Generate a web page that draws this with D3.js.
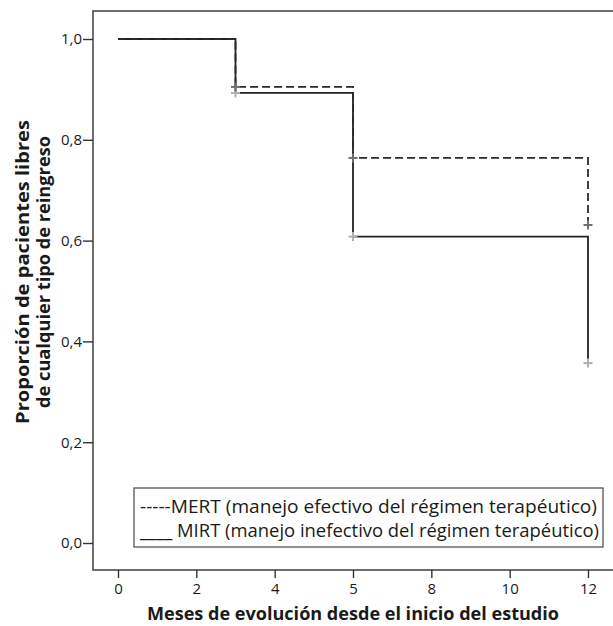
<!DOCTYPE html>
<html>
<head>
<meta charset="utf-8">
<script src="https://cdn.jsdelivr.net/npm/d3@7"></script>
<style>
  body { margin: 0; background: #fff; }
  svg text { font-family: "Open Sans", "Noto Sans", sans-serif; fill: #1a1a1a; }
</style>
</head>
<body>
<div id="chart"></div>
<script>
// data
var months = [0, 3, 5, 12];
var mertSurv = [1.0, 0.905, 0.764, 0.631];
var mirtSurv = [1.0, 0.893, 0.608, 0.357];
var xTicks = [0, 2, 4, 5, 8, 10, 12];
var yTicks = [0, 0.2, 0.4, 0.6, 0.8, 1.0];
var legendLabels = ["-----MERT (manejo efectivo del régimen terapéutico)",
                    "____ MIRT (manejo inefectivo del régimen terapéutico)"];

var W = 613, H = 626;
var frame = {left: 93, top: 11, bottom: 570};

var svg = d3.select("#chart").append("svg")
  .attr("width", W).attr("height", H);

// x axis is evenly spaced per tick (piecewise scale)
var x = d3.scaleLinear()
  .domain(xTicks)
  .range(xTicks.map(function(d, i) { return 118 + i * (470 / (xTicks.length - 1)); }));

var y = d3.scaleLinear().domain([0, 1]).range([543, 39]);

// plot frame (right side runs off the picture)
svg.append("rect")
  .attr("x", frame.left).attr("y", frame.top)
  .attr("width", W + 20 - frame.left).attr("height", frame.bottom - frame.top)
  .attr("fill", "none").attr("stroke", "#4a4a4a").attr("stroke-width", 1.6);

// y axis
var yAxis = svg.append("g")
  .attr("transform", "translate(" + frame.left + ",0)")
  .call(d3.axisLeft(y).tickValues(yTicks).tickSize(10).tickSizeOuter(0)
    .tickFormat(function(d) { return d3.format(".1f")(d).replace(".", ","); }));
yAxis.select(".domain").remove();
yAxis.selectAll(".tick line").attr("stroke", "#333").attr("stroke-width", 1.4);
yAxis.selectAll(".tick text").attr("x", -11).style("font-size", "15px");

// x axis
var xAxis = svg.append("g")
  .attr("transform", "translate(0," + frame.bottom + ")")
  .call(d3.axisBottom(x).tickValues(xTicks).tickSize(8).tickSizeOuter(0));
xAxis.select(".domain").remove();
xAxis.selectAll(".tick line").attr("stroke", "#333").attr("stroke-width", 1.4);
xAxis.selectAll(".tick text").attr("y", 13).style("font-size", "15px");

// survival curves
var line = d3.line()
  .x(function(d) { return x(d[0]); })
  .y(function(d) { return y(d[1]); })
  .curve(d3.curveStepAfter);

var mirt = months.map(function(m, i) { return [m, mirtSurv[i]]; });
var mert = months.map(function(m, i) { return [m, mertSurv[i]]; });

svg.append("path").datum(mirt)
  .attr("d", line).attr("fill", "none")
  .attr("stroke", "#222").attr("stroke-width", 1.8);

svg.append("path").datum(mert)
  .attr("d", line).attr("fill", "none")
  .attr("stroke", "#2a2a2a").attr("stroke-width", 1.8)
  .attr("stroke-dasharray", "8,4");

// censor marks
function censor(data, colour) {
  var g = svg.append("g").attr("stroke", colour).attr("stroke-width", 2);
  data.slice(1).forEach(function(d) {
    var cx = x(d[0]), cy = y(d[1]);
    g.append("line").attr("x1", cx - 4.5).attr("x2", cx + 4.5).attr("y1", cy).attr("y2", cy);
    g.append("line").attr("x1", cx).attr("x2", cx).attr("y1", cy - 4.5).attr("y2", cy + 4.5);
  });
}
censor(mirt, "#b0b0b0");
censor(mert, "#707070");

// legend
svg.append("rect")
  .attr("x", 134).attr("y", 488).attr("width", 469).attr("height", 59)
  .attr("fill", "#fff").attr("stroke", "#555").attr("stroke-width", 1.3);

var legWidths = [457, 459];
svg.selectAll(".leg").data(legendLabels).enter()
  .append("text")
  .attr("x", 140)
  .attr("y", function(d, i) { return 513 + i * 24; })
  .attr("textLength", function(d, i) { return legWidths[i]; })
  .attr("lengthAdjust", "spacingAndGlyphs")
  .style("font-size", "17.5px")
  .text(function(d) { return d; });

// axis titles
svg.append("text")
  .attr("x", 353).attr("y", 620)
  .attr("text-anchor", "middle")
  .attr("textLength", 412).attr("lengthAdjust", "spacingAndGlyphs")
  .style("font-size", "17.5px").style("font-weight", "bold")
  .text("Meses de evolución desde el inicio del estudio");

var yTitle = svg.append("text")
  .attr("transform", "translate(0,272) rotate(-90)")
  .attr("text-anchor", "middle")
  .style("font-size", "17.5px").style("font-weight", "bold");
yTitle.append("tspan").attr("x", 0).attr("y", 29)
  .attr("textLength", 304).attr("lengthAdjust", "spacingAndGlyphs")
  .text("Proporción de pacientes libres");
yTitle.append("tspan").attr("x", 0).attr("y", 50)
  .attr("textLength", 272).attr("lengthAdjust", "spacingAndGlyphs")
  .text("de cualquier tipo de reingreso");
</script>
</body>
</html>
